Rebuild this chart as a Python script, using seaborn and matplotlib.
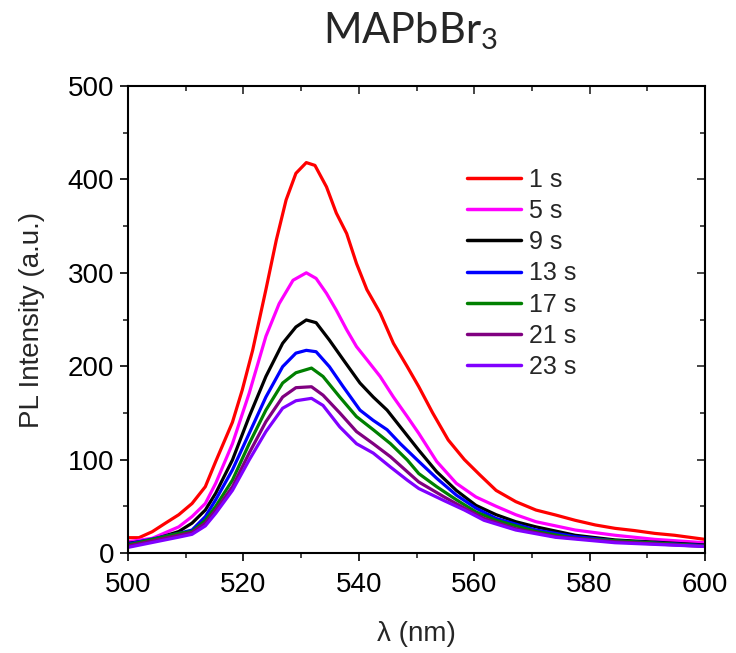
import matplotlib
matplotlib.use("Agg")
import matplotlib.pyplot as plt
from matplotlib.ticker import MultipleLocator
import seaborn as sns
import pandas as pd

# PL spectra of MAPbBr3 at successive times
labels = ["1 s", "5 s", "9 s", "13 s", "17 s", "21 s", "23 s"]
colors = ["#FF0000", "#FF00FF", "#000000", "#0000FF", "#008000", "#800080", "#8000FF"]

wl_1s = [500, 501.9, 504.2, 506.5, 508.8, 511.1, 513.4, 515.2, 518.1, 519.8, 521.6, 523.9,
         525.7, 527.4, 529.1, 530.9, 532.4, 534.4, 536.1, 537.9, 539.6, 541.4, 543.7, 546.0,
         548.4, 550.4, 552.8, 555.5, 558.3, 561.0, 563.8, 567.2, 570.7, 574.1, 577.5, 581.0,
         584.4, 587.8, 591.3, 594.7, 600]
pl_1s = [16.4, 16.4, 22.8, 32, 41, 53, 71, 98, 140, 174.5, 217, 282,
         335, 378, 406.5, 418, 415, 392, 364, 342, 310, 282, 257, 224.5,
         199.5, 178, 150, 121, 100, 83.5, 67, 55, 46, 40.7, 35, 30,
         26.4, 24, 21, 19, 14.6]

wl_5s = [500, 504.2, 508.8, 511.1, 513.4, 515.2, 518.1, 521.0, 523.9, 526.2, 528.6, 530.9,
         532.6, 534.4, 536.1, 537.9, 539.6, 541.4, 543.7, 546.0, 548.4, 550.4, 553.5, 556.9,
         560.3, 563.8, 567.2, 570.7, 577.5, 584.4, 591.3, 600]
pl_5s = [12, 15.7, 28, 39, 53, 74.6, 117, 171, 232, 267, 292, 300,
         294, 278, 260, 239, 221, 207, 189, 167, 146, 128, 98, 74.6,
         60, 50, 41, 33.5, 24.6, 19, 14.6, 11]

wl_9s = [500, 504.2, 508.8, 511.1, 513.4, 515.2, 518.1, 521.0, 523.9, 526.8, 529.1, 530.9,
         532.6, 534.9, 537.3, 540.2, 542.5, 544.9, 547.2, 550.4, 553.5, 556.9, 560.3, 563.8,
         567.2, 570.7, 577.5, 584.4, 600]
pl_9s = [10.3, 14, 23, 32, 46, 64, 99.6, 146, 189, 224.5, 242, 249.5,
         246.6, 228, 207, 182, 167, 153, 135, 110, 87, 67, 51, 41,
         33.5, 28, 19, 14, 8.6]

wl_13s = [500, 508.8, 511.1, 513.4, 515.2, 518.1, 521.0, 523.9, 526.8, 529.1, 530.9, 532.6,
          534.9, 537.3, 540.2, 542.5, 544.9, 547.2, 550.4, 553.5, 556.9, 560.3, 563.8, 570.7,
          577.5, 584.4, 600]
pl_13s = [9.6, 21, 24.6, 39, 57, 89, 128, 167, 199.5, 214, 217, 215.5,
          199.5, 178, 153, 142, 132, 117, 98, 80, 62, 48, 37, 24.6,
          17.5, 13, 8]

wl_17s = [500, 508.8, 511.1, 513.4, 515.2, 518.1, 521.0, 523.9, 526.8, 529.1, 531.8, 533.8,
          536.7, 539.6, 542.5, 545.5, 548.4, 550.4, 553.5, 556.9, 560.3, 563.8, 570.7, 577.5,
          600]
pl_17s = [8.6, 21, 23, 35, 50, 78, 117, 153, 182, 193, 198, 189,
          167, 146, 132, 117, 99.6, 85, 71, 57, 44, 35, 23, 15.7,
          7.5]

wl_21s = [500, 508.8, 511.1, 513.4, 515.2, 518.1, 521.0, 523.9, 526.8, 529.1, 531.8, 533.8,
          536.7, 539.6, 542.5, 545.5, 548.4, 550.4, 554.8, 558.3, 561.7, 567.2, 574.1, 584.4,
          600]
pl_21s = [7.5, 19, 22, 32, 46, 71, 107, 140.6, 167, 177, 178, 169,
          150, 130, 117, 103, 87, 76, 60, 48, 37, 26, 17.5, 12,
          7]

wl_23s = [500, 508.8, 511.1, 513.4, 515.2, 518.1, 521.0, 523.9, 526.8, 529.1, 531.8, 533.8,
          536.7, 539.6, 542.5, 545.5, 548.4, 550.4, 554.8, 558.3, 561.7, 567.2, 574.1, 584.4,
          600]
pl_23s = [6, 17, 20, 29, 42.5, 67, 99.6, 130, 155, 163, 165.6, 158,
          135, 117, 107, 92, 78, 69, 56, 46, 35, 24.6, 16.8, 11,
          7]

x_ticks = [500, 520, 540, 560, 580, 600]
y_ticks = [0, 100, 200, 300, 400, 500]

series = [(wl_1s, pl_1s), (wl_5s, pl_5s), (wl_9s, pl_9s), (wl_13s, pl_13s),
          (wl_17s, pl_17s), (wl_21s, pl_21s), (wl_23s, pl_23s)]
frames = []
for lab, (wl, pl) in zip(labels, series):
    frames.append(pd.DataFrame({"wavelength": wl, "intensity": pl, "time": lab}))
df = pd.concat(frames, ignore_index=True)

sns.set_theme(style="ticks")
plt.rcParams["font.family"] = ["Liberation Sans", "DejaVu Sans"]
plt.rcParams["mathtext.fontset"] = "custom"
plt.rcParams["mathtext.rm"] = "Lato"

fig = plt.figure(figsize=(7.36, 6.53), dpi=100)
ax = fig.add_axes([128 / 736, 1 - 553 / 653, 577 / 736, 467 / 653])

sns.lineplot(data=df, x="wavelength", y="intensity", hue="time", hue_order=labels,
             palette=colors, estimator=None, sort=False, linewidth=2.3, ax=ax)

ax.set_xlim(500, 600)
ax.set_ylim(0, 500)
ax.set_xticks(x_ticks)
ax.set_yticks(y_ticks)
ax.xaxis.set_minor_locator(MultipleLocator(10))
ax.yaxis.set_minor_locator(MultipleLocator(50))
ax.tick_params(which="major", direction="out", length=6, width=1.2, labelsize=20,
               colors="black")
ax.tick_params(which="minor", direction="out", length=3.5, width=1.2)
ax.tick_params(axis="x", which="major", pad=8)
ax.tick_params(axis="y", which="major", pad=4)
for s in ax.spines.values():
    s.set_linewidth(1.5)
    s.set_color("black")

# mirrored inward ticks on the top and right edges
top = ax.secondary_xaxis("top")
top.set_xticks(x_ticks)
top.xaxis.set_minor_locator(MultipleLocator(10))
top.tick_params(which="major", direction="in", length=6, width=1.2, labeltop=False)
top.tick_params(which="minor", direction="in", length=3.5, width=1.2)
right = ax.secondary_yaxis("right")
right.set_yticks(y_ticks)
right.yaxis.set_minor_locator(MultipleLocator(50))
right.tick_params(which="major", direction="in", length=6, width=1.2, labelright=False)
right.tick_params(which="minor", direction="in", length=3.5, width=1.2)

ax.set_xlabel("λ (nm)", fontsize=20, labelpad=16)
ax.set_ylabel("PL Intensity (a.u.)", fontsize=20, labelpad=16)

fig.text(410 / 736, 1 - 43 / 653, r"$\mathrm{MAPbBr}_\mathrm{3}$",
         fontsize=30, ha="center", va="baseline")

leg = ax.legend(loc="upper left", bbox_to_anchor=(0.5875, 0.825), frameon=False,
                fontsize=18, handlelength=2.15, handletextpad=0.32, labelspacing=0.29,
                borderpad=0, borderaxespad=0)
for h in leg.get_lines():
    h.set_linewidth(2.5)

fig.savefig("out.png", dpi=100)
